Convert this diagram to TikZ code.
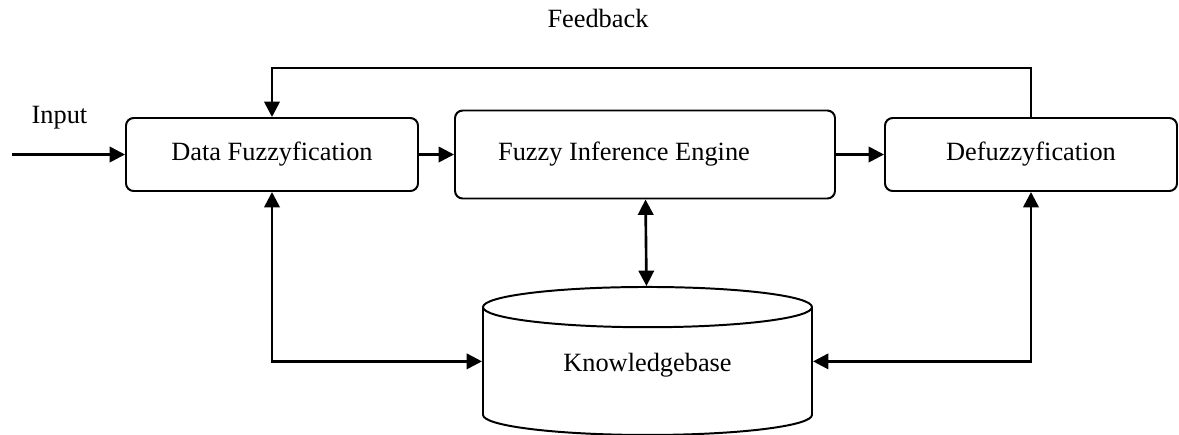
\documentclass[tikz,border=0pt]{standalone}
\usepackage{fontspec}
\setmainfont{Liberation Serif}
\usetikzlibrary{shapes.geometric,arrows.meta}
\tikzstyle{block} = [rectangle, draw, line width=0.9pt, rounded corners=3.5pt,
    minimum width=4.672cm, minimum height=1.168cm, text centered]
\tikzstyle{store} = [cylinder, shape border rotate=90, draw, line width=0.9pt,
    aspect=0.22, minimum width=5.264cm, minimum height=2.368cm]
\tikzstyle{line} = [draw, line width=1.2pt, -{Triangle[length=7pt,width=7pt]}]
\tikzstyle{both} = [draw, line width=1.2pt,
    {Triangle[length=7pt,width=7pt]}-{Triangle[length=7pt,width=7pt]}]

\begin{document}
\begin{tikzpicture}[font=\fontsize{12}{14}\selectfont]
      \useasboundingbox (0,0) rectangle (18.864,-6.944);
      \node [block] (fuzzify) at (4.352,-2.472) {Data Fuzzyfication};
      \node [block, right of=fuzzify, node distance=5.968cm, minimum width=6.08cm,
         minimum height=1.408cm] (infer)
         {\makebox[4.7cm][l]{Fuzzy Inference Engine}};
      \node [block, right of=infer, node distance=6.176cm] (defuzz) {Defuzzyfication};
      \node [store, below of=infer, node distance=3.52cm, xshift=0.04cm,
         text height=0.3cm, text depth=0.41cm] (kb) {Knowledgebase};
      \node [above of=infer, node distance=2.176cm, xshift=-0.752cm] (feedback)
         {Feedback};
      \coordinate [left of=fuzzify, node distance=4.16cm] (in);

      \path [line] (in) -- node [above=7.5pt, pos=0.42] (input) {Input} (fuzzify);
      \path [line] (fuzzify) -- (infer);
      \path [line] (infer) -- (defuzz);
      \path [both] (infer) -- (kb);
      \path [both] (fuzzify.south) |- ([yshift=0.21cm]kb.west);
      \path [both] (defuzz.south) |- ([yshift=0.21cm]kb.east);
      \path [line] (defuzz.north) -- ++(0,0.784) -| (fuzzify.north);
   \end{tikzpicture}
\end{document}
